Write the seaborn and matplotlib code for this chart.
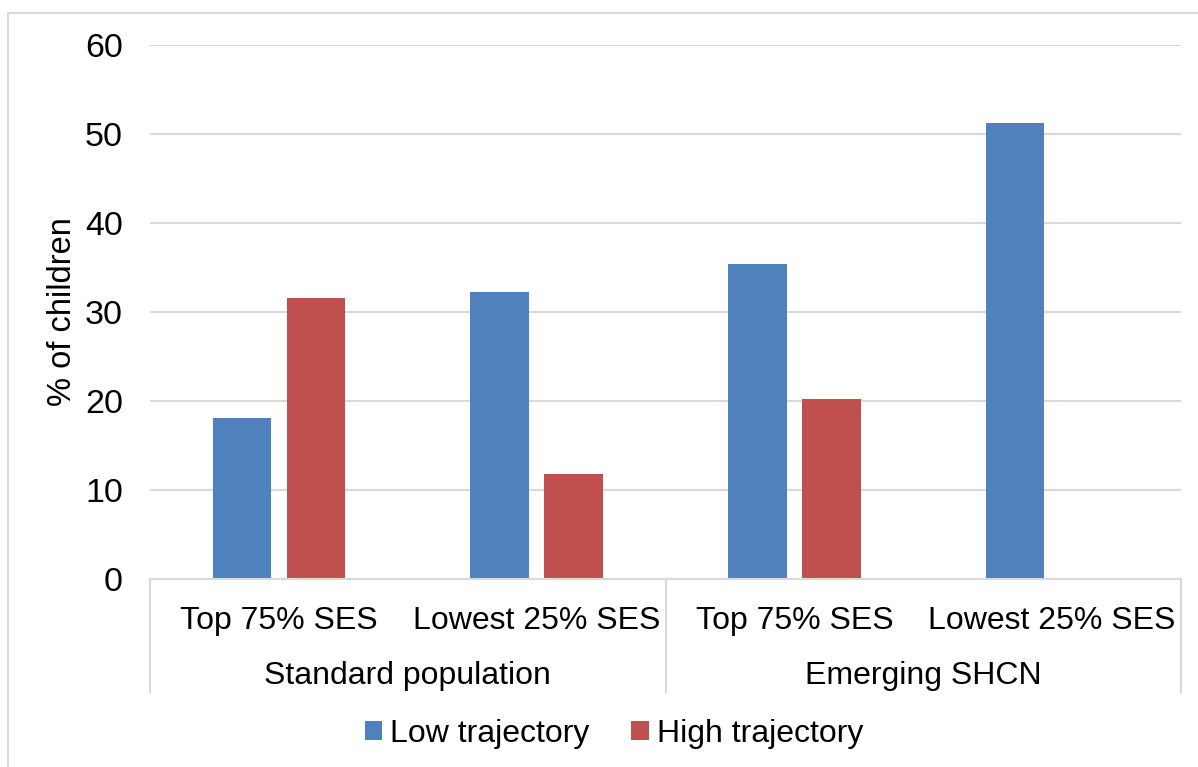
import matplotlib
matplotlib.use("Agg")
import matplotlib.pyplot as plt
import seaborn as sns
import pandas as pd
from matplotlib.lines import Line2D
from matplotlib.patches import Patch

# ---- data ----
groups = ["Standard population", "Standard population", "Emerging SHCN", "Emerging SHCN"]
subcats = ["Top 75% SES", "Lowest 25% SES", "Top 75% SES", "Lowest 25% SES"]
low_traj = [18.1, 32.2, 35.4, 51.2]
high_traj = [31.6, 11.8, 20.2, 0.0]
series = ["Low trajectory", "High trajectory"]
colors = ["#4F81BD", "#C0504D"]
yticks = [0, 10, 20, 30, 40, 50, 60]

cat_keys = [f"{g}|{s}" for g, s in zip(groups, subcats)]
df = pd.DataFrame({
    "cat": cat_keys * 2,
    "series": [series[0]] * 4 + [series[1]] * 4,
    "value": low_traj + high_traj,
})

sns.set_theme(style="white")
plt.rcParams["font.family"] = ["Liberation Sans", "DejaVu Sans"]
FS = 23
TFS = 24.5

W, H = 1198, 767
fig = plt.figure(figsize=(W / 100, H / 100), dpi=100)
ax = fig.add_axes([150 / W, 1 - 579 / H, (1181 - 150) / W, (579 - 45) / H])

sns.barplot(data=df, x="cat", y="value", hue="series", order=cat_keys,
            hue_order=series, palette=colors, width=0.575, gap=0.21,
            saturation=1, edgecolor="none", legend=False, ax=ax)

ax.set_xlim(-0.5, 3.5)
ax.set_ylim(0, 60)
ax.set_yticks(yticks)
ax.set_yticklabels([str(t) for t in yticks], fontsize=TFS, color="black")
ax.tick_params(axis="y", length=0, pad=19.5)
ax.set_xticks([])
ax.set_xlabel("")
ax.set_ylabel("% of children", fontsize=23.5, color="black")
ax.yaxis.set_label_coords(-0.07, 0.5)
ax.yaxis.grid(True, color="#D9D9D9", linewidth=1.5)
ax.set_axisbelow(True)
for sp in ["left", "right", "top"]:
    ax.spines[sp].set_visible(False)
ax.spines["bottom"].set_color("#D9D9D9")
ax.spines["bottom"].set_linewidth(1.5)

# multi-level category axis
trans = ax.get_xaxis_transform()
for i, s in enumerate(subcats):
    ax.text(i, -0.078, s, transform=trans, ha="center", va="center",
            fontsize=FS, color="black")
group_names = ["Standard population", "Emerging SHCN"]
for j, g in enumerate(group_names):
    ax.text(2 * j + 0.5, -0.182, g, transform=trans, ha="center", va="center",
            fontsize=FS, color="black")
for xs in [-0.5, 1.5, 3.5]:
    ax.add_line(Line2D([xs, xs], [0, -0.2135], transform=trans, color="#D9D9D9",
                       linewidth=1.5, clip_on=False))

# legend
handles = [Patch(facecolor=c, edgecolor="none") for c in colors]
leg = fig.legend(handles, series, loc="center", bbox_to_anchor=(614 / W, 1 - 734 / H),
                 ncol=2, frameon=False, fontsize=FS, handlelength=0.55, handleheight=0.55,
                 handletextpad=0.25, columnspacing=1.3)
for t in leg.get_texts():
    t.set_color("black")

# chart area border (left and top visible)
fig.add_artist(Line2D([8 / W, 8 / W], [0, 1 - 13 / H], transform=fig.transFigure,
                      color="#D9D9D9", linewidth=1.5))
fig.add_artist(Line2D([8 / W, 1], [1 - 13 / H, 1 - 13 / H], transform=fig.transFigure,
                      color="#D9D9D9", linewidth=1.5))

fig.savefig("out.png", dpi=100, facecolor="white")
